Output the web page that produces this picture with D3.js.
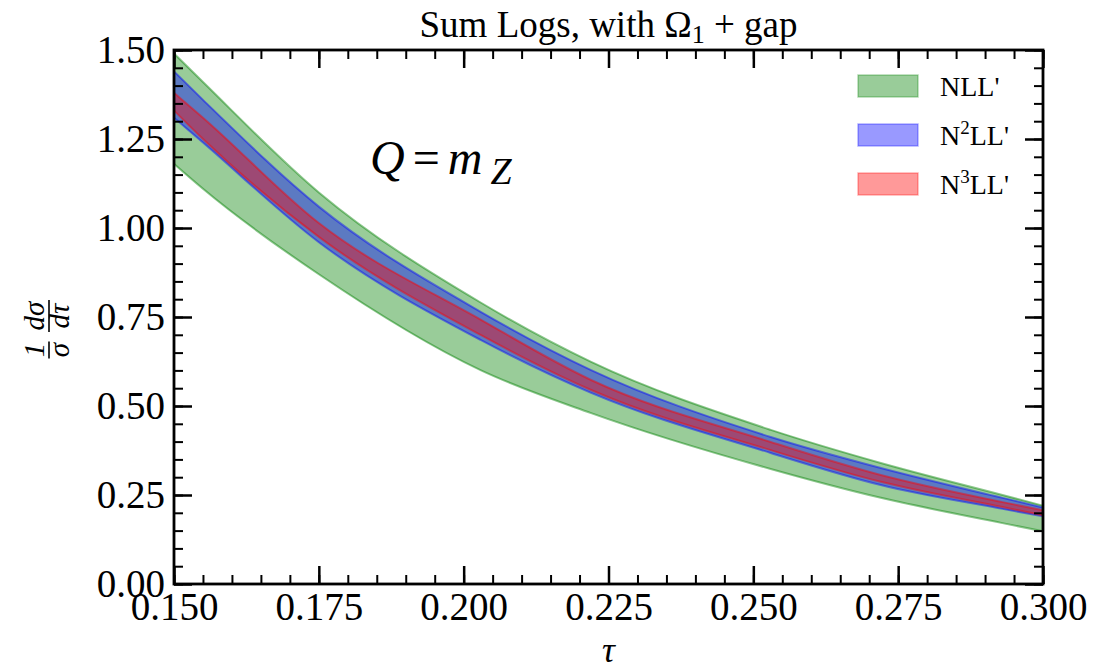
<!DOCTYPE html>
<html lang="en">
<head>
  <meta charset="UTF-8">
  <title>Sum Logs, with Omega1 + gap</title>
  <script src="https://d3js.org/d3.v7.min.js"></script>
  <style>
    body { margin: 0; background: #fff; }
    svg text { font-family: "Liberation Serif", "Times New Roman", "DejaVu Serif", serif !important; fill: #000; }
    .tick line { stroke: #000; }
  </style>
</head>
<body>
  <svg id="chart" width="1110" height="671"></svg>

  <script>
    // values
    const tau      = [0.150, 0.155, 0.175, 0.203, 0.222, 0.253, 0.272, 0.293, 0.300];
    const nllHi    = [1.49, 1.41, 1.10, 0.790, 0.624, 0.433, 0.340, 0.250, 0.220];
    const nllLo    = [1.18, 1.11, 0.87, 0.600, 0.480, 0.323, 0.242, 0.171, 0.148];
    const n2llHi   = [1.44, 1.36, 1.06, 0.764, 0.601, 0.413, 0.326, 0.242, 0.215];
    const n2llLo   = [1.31, 1.24, 0.96, 0.685, 0.537, 0.368, 0.278, 0.211, 0.190];
    const n3llHi   = [1.38, 1.31, 1.014, 0.742, 0.573, 0.399, 0.306, 0.230, 0.207];
    const n3llLo   = [1.33, 1.25, 0.975, 0.699, 0.545, 0.376, 0.287, 0.216, 0.193];

    const xTicks = [0.150, 0.175, 0.200, 0.225, 0.250, 0.275, 0.300];
    const yTicks = [0.00, 0.25, 0.50, 0.75, 1.00, 1.25, 1.50];

    const seriesNames = ["NLL'", "N2LL'", "N3LL'"];
    const seriesSup   = ["", "2", "3"];
    const seriesColor = ["green", "blue", "red"];

    const SERIF = '"Liberation Serif", "Times New Roman", serif';

    const svg = d3.select("#chart").style("font-family", SERIF);
    const margin = { top: 50, right: 67, bottom: 87, left: 174 };
    const W = 1110, H = 671;

    const x = d3.scaleLinear().domain([0.15, 0.30]).range([margin.left, W - margin.right]);
    const y = d3.scaleLinear().domain([0, 1.5]).range([H - margin.bottom, margin.top]);

    const xMinor = d3.range(0.150, 0.3001, 0.005).map(v => +v.toFixed(3));
    const yMinor = d3.range(0, 1.5001, 0.05).map(v => +v.toFixed(2));

    // bands
    const bands = [
      { hi: nllHi, lo: nllLo },
      { hi: n2llHi, lo: n2llLo },
      { hi: n3llHi, lo: n3llLo }
    ];
    const area = d3.area()
      .x(d => x(d.t))
      .y0(d => y(d.lo))
      .y1(d => y(d.hi))
      .curve(d3.curveMonotoneX);

    bands.forEach((b, i) => {
      const pts = tau.map((t, k) => ({ t: t, hi: b.hi[k], lo: b.lo[k] }));
      svg.append("path")
        .datum(pts)
        .attr("d", area)
        .attr("fill", seriesColor[i])
        .attr("fill-opacity", 0.4)
        .attr("stroke", seriesColor[i])
        .attr("stroke-opacity", 0.45)
        .attr("stroke-width", 2);
    });

    // axes, ticks pointing inward on all four sides
    const x0 = margin.left, x1 = W - margin.right;
    const y0 = H - margin.bottom, y1 = margin.top;

    function addAxis(axis, tx, ty, width) {
      const g = svg.append("g").attr("transform", `translate(${tx},${ty})`).call(axis);
      g.attr("font-family", null);
      g.select(".domain").remove();
      g.selectAll(".tick line").attr("stroke-width", width);
      g.selectAll("text").style("font-family", SERIF);
      return g;
    }

    addAxis(d3.axisLeft(y).tickValues(yMinor).tickSize(-9).tickFormat(""), x0, 0, 2);
    addAxis(d3.axisRight(y).tickValues(yMinor).tickSize(-9).tickFormat(""), x1, 0, 2);
    addAxis(d3.axisBottom(x).tickValues(xMinor).tickSize(-9).tickFormat(""), 0, y0, 2);
    addAxis(d3.axisTop(x).tickValues(xMinor).tickSize(-9).tickFormat(""), 0, y1, 2);

    const gl = addAxis(d3.axisLeft(y).tickValues(yTicks).tickSize(-18).tickPadding(9).tickFormat(d3.format(".2f")), x0, 0, 2.5);
    gl.attr("font-size", 39);
    gl.selectAll("text").attr("font-size", 39);
    addAxis(d3.axisRight(y).tickValues(yTicks).tickSize(-18).tickFormat(""), x1, 0, 2.5);
    const gb = addAxis(d3.axisBottom(x).tickValues(xTicks).tickSize(-18).tickPadding(8).tickFormat(d3.format(".3f")), 0, y0, 2.5);
    gb.attr("font-size", 39);
    gb.selectAll("text").attr("font-size", 39);
    addAxis(d3.axisTop(x).tickValues(xTicks).tickSize(-18).tickFormat(""), 0, y1, 2.5);

    svg.append("rect")
      .attr("x", x0).attr("y", y1)
      .attr("width", x1 - x0).attr("height", y0 - y1)
      .attr("fill", "none").attr("stroke", "#000").attr("stroke-width", 2.8);

    // title
    const title = svg.append("text")
      .attr("x", (x0 + x1) / 2).attr("y", 37)
      .attr("text-anchor", "middle")
      .attr("font-size", 37);
    title.append("tspan").text("Sum Logs, with \u03A9");
    title.append("tspan").attr("font-size", 26).attr("dy", 6).text("1");
    title.append("tspan").attr("dy", -6).text(" + gap");

    // x label
    svg.append("text")
      .attr("x", (x0 + x1) / 2).attr("y", 662)
      .attr("text-anchor", "middle")
      .attr("font-size", 36)
      .attr("font-style", "italic")
      .text("\u03C4");

    // y label: (1/sigma)(d sigma / d tau)
    const yl = svg.append("g").attr("transform", "translate(49,333) rotate(-90)");
    const fr = (cx, num, den, w) => {
      yl.append("text").attr("x", cx).attr("y", -5).attr("text-anchor", "middle")
        .attr("font-size", 29).attr("font-style", "italic").text(num);
      yl.append("line").attr("x1", cx - w / 2).attr("x2", cx + w / 2)
        .attr("y1", 0).attr("y2", 0).attr("stroke", "#000").attr("stroke-width", 1.6);
      yl.append("text").attr("x", cx).attr("y", 20).attr("text-anchor", "middle")
        .attr("font-size", 29).attr("font-style", "italic").text(den);
    };
    fr(-17, "1", "\u03C3", 17);
    fr(17, "d\u03C3", "d\u03C4", 32);

    // Q = m_Z
    const q = svg.append("text")
      .attr("x", 370).attr("y", 174)
      .attr("font-size", 48);
    q.append("tspan").attr("font-style", "italic").text("Q");
    q.append("tspan").attr("dx", 8).text("=");
    q.append("tspan").attr("font-style", "italic").attr("dx", 8).text("m");
    q.append("tspan").attr("font-style", "italic").attr("font-size", 38).attr("dx", 8).attr("dy", 10).text("Z");

    // legend
    const lg = svg.append("g").attr("transform", "translate(858,75)");
    seriesNames.forEach((name, i) => {
      const row = lg.append("g").attr("transform", `translate(0,${i * 49})`);
      row.append("rect")
        .attr("width", 60).attr("height", 22)
        .attr("fill", seriesColor[i]).attr("fill-opacity", 0.4)
        .attr("stroke", seriesColor[i]).attr("stroke-opacity", 0.3).attr("stroke-width", 1.5);
      const t = row.append("text").attr("x", 82).attr("y", 21).attr("font-size", 28);
      t.append("tspan").text("N");
      if (seriesSup[i]) {
        t.append("tspan").attr("font-size", 19).attr("dy", -11).text(seriesSup[i]);
        t.append("tspan").attr("dy", 11).text("LL'");
      } else {
        t.append("tspan").text("LL'");
      }
    });
  </script>
</body>
</html>
